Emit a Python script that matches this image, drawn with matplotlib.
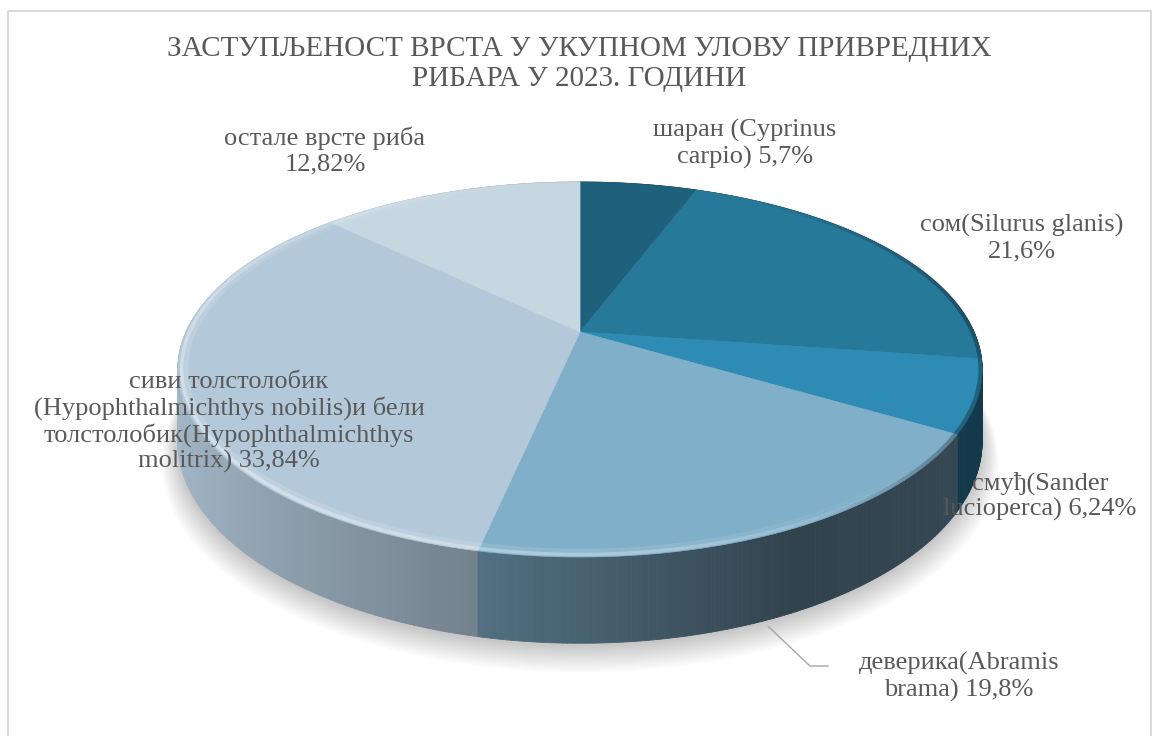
import numpy as np
import matplotlib
matplotlib.use("Agg")
import matplotlib.pyplot as plt
from matplotlib.patches import Polygon, Rectangle
from matplotlib.collections import LineCollection

# ---------------- data ----------------
title = "ЗАСТУПЉЕНОСТ ВРСТА У УКУПНОМ УЛОВУ ПРИВРЕДНИХ\nРИБАРА У 2023. ГОДИНИ"
names = [
    "шаран (Cyprinus\ncarpio) ",
    "сом(Silurus glanis)\n",
    "смуђ(Sander\nlucioperca) ",
    "деверика(Abramis\nbrama) ",
    "сиви толстолобик\n(Hypophthalmichthys nobilis)и бели\nтолстолобик(Hypophthalmichthys\nmolitrix) ",
    "остале врсте риба\n",
]
shares = [5.7, 21.6, 6.24, 19.8, 33.84, 12.82]
colors = ["#1f607b", "#27799a", "#2e8bb3", "#80afc9", "#b3c9da", "#c6d7e2"]
label_pos = [(745, 144), (1022, 238), (1040, 496), (959, 677), (229, 422), (325, 151)]

# ---------------- geometry (pixel space) ----------------
W, H = 1152, 736
fig = plt.figure(figsize=(W / 100, H / 100), dpi=100)
ax = fig.add_axes([0, 0, 1, 1])
ax.set_xlim(0, W)
ax.set_ylim(H, 0)
ax.axis("off")

CX, CY, RX, RY, K, DEPTH = 580, 332, 394, 180, 0.2, 69


def proj(theta_deg, r=1.0, z=0.0):
    t = np.radians(np.asarray(theta_deg, dtype=float))
    u = r * np.sin(t)
    v = -r * np.cos(t)
    s = 1.0 / (1.0 - K * v)
    return CX + RX * u * s, CY + (RY * v + DEPTH * z) * s


def shade(color, u):
    f = np.interp(u, [-1, -0.2, 0.45, 1], [0.92, 0.64, 0.38, 0.42])
    c = np.array(matplotlib.colors.to_rgb(color))
    return tuple(np.clip(c * f, 0, 1))


total = float(sum(shares))
bounds = np.concatenate([[0], np.cumsum(shares)]) / total * 360.0

# ---- frame ----
ax.add_patch(Rectangle((8, 11), 1143, 740, fill=False, edgecolor="#d9d9d9", lw=1.5, zorder=0))

# ---- soft shadow ----
th_all = np.linspace(0, 360, 361)
for i in range(14):
    xs, ys = proj(th_all, r=1.0 + 0.003 * i, z=1.0)
    ax.add_patch(Polygon(np.column_stack([xs, ys + 3 + 1.1 * i]), closed=True,
                         facecolor="#000000", edgecolor="none", alpha=0.016, zorder=1))

# ---- side walls ----
strips = []
for i in range(len(shares)):
    a0, a1 = bounds[i], bounds[i + 1]
    n = max(2, int((a1 - a0) / 0.5))
    th = np.linspace(a0, a1, n + 1)
    for j in range(n):
        t0, t1 = th[j], th[j + 1]
        tm = 0.5 * (t0 + t1)
        v = -np.cos(np.radians(tm))
        u = np.sin(np.radians(tm))
        x0t, y0t = proj(t0)
        x1t, y1t = proj(t1)
        x0b, y0b = proj(t0, z=1)
        x1b, y1b = proj(t1, z=1)
        strips.append((v, [(x0t, y0t), (x1t, y1t), (x1b, y1b), (x0b, y0b)], shade(colors[i], u)))
strips.sort(key=lambda s: s[0])
for v, pts, c in strips:
    ax.add_patch(Polygon(pts, closed=True, facecolor=c, edgecolor=c, lw=0.6, zorder=2))

# ---- top face ----
for i in range(len(shares)):
    th = np.linspace(bounds[i], bounds[i + 1], 200)
    xs, ys = proj(th)
    pts = np.column_stack([np.concatenate([[CX], xs]), np.concatenate([[CY], ys])])
    ax.add_patch(Polygon(pts, closed=True, facecolor=colors[i], edgecolor=colors[i],
                         lw=0.5, zorder=3))

# ---- bevel highlight / dark edge ----
th = np.linspace(0, 360, 721)
tm = 0.5 * (th[:-1] + th[1:])
alpha_hi = np.clip(np.interp(tm, [0, 130, 170, 230, 280, 330, 360], [0, 0, 0.3, 0.45, 0.35, 0.1, 0]), 0, 1)
for r, lw, fac in [(0.985, 6.0, 0.35), (0.991, 2.5, 0.8)]:
    xs, ys = proj(th, r=r)
    segs = [[(xs[j], ys[j]), (xs[j + 1], ys[j + 1])] for j in range(len(th) - 1)]
    ax.add_collection(LineCollection(segs, colors=[(1, 1, 1, a * fac) for a in alpha_hi],
                                     lw=lw, zorder=4))
alpha_dk = np.clip(np.interp(tm, [0, 30, 80, 120, 150, 360], [0, 0.0, 0.3, 0.3, 0, 0]), 0, 1)
xs2, ys2 = proj(th, r=0.996)
segs2 = [[(xs2[j], ys2[j]), (xs2[j + 1], ys2[j + 1])] for j in range(len(th) - 1)]
ax.add_collection(LineCollection(segs2, colors=[(0, 0, 0, a) for a in alpha_dk], lw=3.0, zorder=4))

# ---- labels ----
font = dict(family="Liberation Serif", size=19, color="#595959")
for i in range(len(shares)):
    pct = f"{shares[i]:g}".replace(".", ",") + "%"
    ax.text(label_pos[i][0], label_pos[i][1], names[i] + pct, ha="center", va="center",
            multialignment="center", linespacing=1.17, zorder=6, **font)

# leader line for деверика
mid = 0.5 * (bounds[3] + bounds[4])
lx, ly = proj(mid, z=1)
ax.plot([lx - 5, 810, 828], [ly + 8, 666, 666], color="#a6a6a6", lw=1, zorder=5)

# ---- title ----
ax.text(579, 64, title, ha="center", va="center", multialignment="center",
        family="Liberation Serif", size=21, color="#595959", linespacing=1.2, zorder=6)

fig.savefig("out.png", dpi=100, facecolor="white")
